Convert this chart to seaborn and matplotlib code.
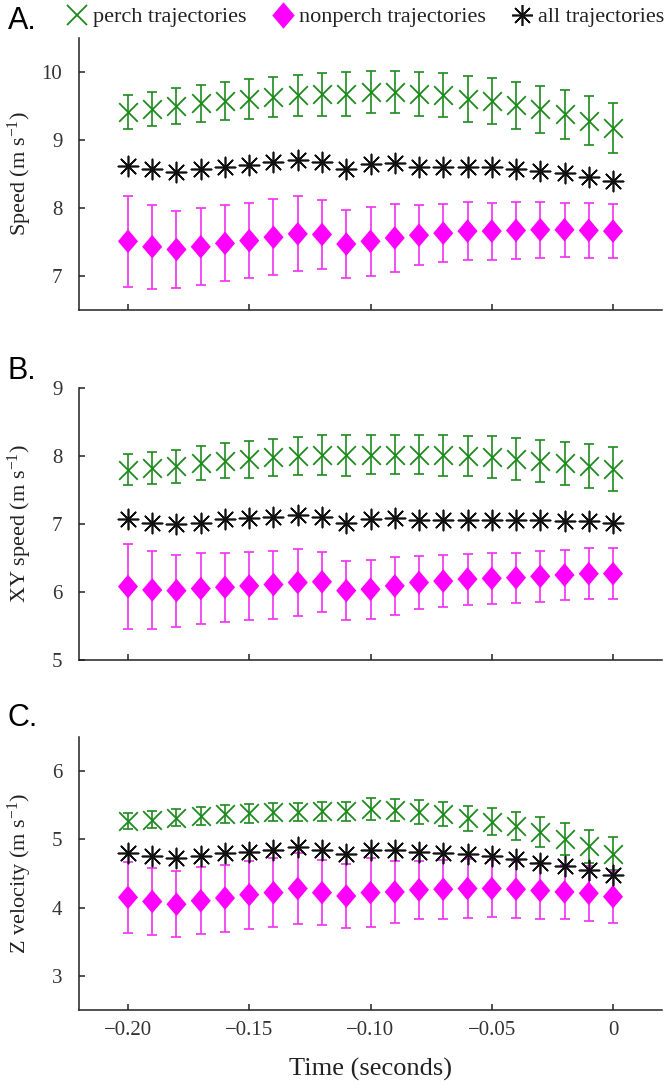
import numpy as np
import pandas as pd
import matplotlib
matplotlib.use('Agg')
import matplotlib.pyplot as plt
from matplotlib.lines import Line2D
import seaborn as sns

# ---- data ----
time = [-0.20, -0.19, -0.18, -0.17, -0.16, -0.15, -0.14, -0.13, -0.12, -0.11,
        -0.10, -0.09, -0.08, -0.07, -0.06, -0.05, -0.04, -0.03, -0.02, -0.01, 0.0]

perch_speed = [9.41, 9.46, 9.50, 9.54, 9.57, 9.60, 9.63, 9.66, 9.67, 9.68,
               9.71, 9.70, 9.68, 9.66, 9.60, 9.57, 9.51, 9.45, 9.38, 9.28, 9.18]
perch_speed_err = [0.25, 0.25, 0.26, 0.27, 0.28, 0.29, 0.29, 0.30, 0.31, 0.32,
                   0.31, 0.31, 0.32, 0.325, 0.335, 0.34, 0.345, 0.35, 0.36, 0.36, 0.37]
nonperch_speed = [7.51, 7.43, 7.39, 7.43, 7.48, 7.52, 7.57, 7.62, 7.61, 7.47,
                  7.51, 7.56, 7.60, 7.63, 7.66, 7.66, 7.67, 7.68, 7.68, 7.67, 7.66]
nonperch_speed_err = [0.67, 0.62, 0.57, 0.565, 0.56, 0.555, 0.56, 0.55, 0.51, 0.505,
                      0.51, 0.50, 0.44, 0.43, 0.425, 0.42, 0.42, 0.41, 0.40, 0.40, 0.40]
all_speed = [8.62, 8.58, 8.53, 8.57, 8.60, 8.63, 8.67, 8.71, 8.67, 8.58,
             8.65, 8.66, 8.60, 8.60, 8.60, 8.60, 8.57, 8.54, 8.51, 8.46, 8.40]

perch_xy = [7.80, 7.83, 7.85, 7.90, 7.93, 7.95, 7.98, 8.00, 8.01, 8.01,
            8.02, 8.02, 8.02, 8.01, 8.00, 7.98, 7.95, 7.93, 7.89, 7.85, 7.81]
perch_xy_err = [0.23, 0.235, 0.24, 0.25, 0.26, 0.27, 0.275, 0.28, 0.295, 0.30,
                0.285, 0.29, 0.29, 0.30, 0.30, 0.31, 0.31, 0.31, 0.31, 0.32, 0.325]
nonperch_xy = [6.08, 6.03, 6.02, 6.05, 6.07, 6.09, 6.11, 6.14, 6.15, 6.02,
               6.04, 6.09, 6.14, 6.16, 6.19, 6.20, 6.21, 6.23, 6.25, 6.27, 6.27]
nonperch_xy_err = [0.63, 0.57, 0.53, 0.52, 0.51, 0.50, 0.50, 0.49, 0.44, 0.43,
                   0.43, 0.43, 0.385, 0.38, 0.375, 0.375, 0.37, 0.37, 0.37, 0.37, 0.37]
all_xy = [7.07, 7.02, 7.00, 7.02, 7.07, 7.09, 7.11, 7.13, 7.11, 7.01,
          7.07, 7.09, 7.06, 7.06, 7.06, 7.06, 7.06, 7.06, 7.05, 7.04, 7.02]

perch_z = [5.27, 5.29, 5.32, 5.34, 5.37, 5.38, 5.40, 5.40, 5.41, 5.41,
           5.45, 5.43, 5.40, 5.37, 5.31, 5.26, 5.19, 5.11, 5.01, 4.90, 4.79]
perch_z_err = [0.12, 0.13, 0.13, 0.13, 0.13, 0.135, 0.135, 0.135, 0.14, 0.14,
               0.16, 0.16, 0.17, 0.18, 0.18, 0.195, 0.205, 0.215, 0.235, 0.24, 0.24]
nonperch_z = [4.15, 4.09, 4.05, 4.10, 4.14, 4.19, 4.22, 4.28, 4.22, 4.17,
              4.22, 4.23, 4.26, 4.27, 4.28, 4.28, 4.27, 4.25, 4.23, 4.21, 4.16]
nonperch_z_err = [0.52, 0.49, 0.48, 0.49, 0.49, 0.50, 0.50, 0.52, 0.48, 0.47,
                  0.50, 0.46, 0.43, 0.43, 0.43, 0.42, 0.42, 0.41, 0.40, 0.40, 0.38]
all_z = [4.80, 4.76, 4.72, 4.76, 4.80, 4.82, 4.85, 4.89, 4.84, 4.79,
         4.85, 4.85, 4.82, 4.80, 4.78, 4.76, 4.71, 4.66, 4.61, 4.55, 4.48]

xticks = [-0.20, -0.15, -0.10, -0.05, 0.0]
xtick_labels = ['\u22120.20', '\u22120.15', '\u22120.10', '\u22120.05', '0']
panel_letters = ['A.', 'B.', 'C.']
ylabels = ['Speed (m s$^{-1}$)', 'XY speed (m s$^{-1}$)', 'Z velocity (m s$^{-1}$)']
yticks = [[7, 8, 9, 10], [5, 6, 7, 8, 9], [3, 4, 5, 6]]
ylims = [(6.5, 10.5), (5, 9), (2.5, 6.5)]
legend_labels = ['perch trajectories', 'nonperch trajectories', 'all trajectories']

# ---- style ----
sns.set_theme(style='ticks')
plt.rcParams['font.family'] = ['Liberation Serif', 'DejaVu Serif']
plt.rcParams['mathtext.fontset'] = 'custom'
plt.rcParams['mathtext.rm'] = 'Liberation Serif'
plt.rcParams['mathtext.it'] = 'Liberation Serif:italic'
plt.rcParams['axes.unicode_minus'] = True

GREEN = '#1e8a1e'
MAGENTA = '#ff00ff'
MAG_BAR = '#f030f0'
BLACK = '#111111'
diamond = [(0, 1), (0.85, 0), (0, -1), (-0.85, 0), (0, 1)]
asterisk = (8, 2, 0)

fig = plt.figure(figsize=(6.66, 10.88), dpi=100)
H = 1088.0
boxes = [(38, 310), (388, 660), (737, 1010)]   # pixel top/bottom of each axes
letter_y = [21, 371, 718]

panels = [
    (perch_speed, perch_speed_err, nonperch_speed, nonperch_speed_err, all_speed),
    (perch_xy, perch_xy_err, nonperch_xy, nonperch_xy_err, all_xy),
    (perch_z, perch_z_err, nonperch_z, nonperch_z_err, all_z),
]

for i, (p, pe, n, ne, a) in enumerate(panels):
    top, bot = boxes[i]
    ax = fig.add_axes([79 / 666, 1 - bot / H, 583 / 666, (bot - top) / H])
    df = pd.DataFrame({'time': time, 'perch': p, 'nonperch': n, 'all': a})

    # perch
    ax.errorbar(time, p, yerr=pe, fmt='none', ecolor=GREEN, elinewidth=1.2,
                capsize=3.4, capthick=1.2, zorder=2)
    sns.scatterplot(data=df, x='time', y='perch', marker='x', color=GREEN,
                    s=180, linewidth=1.3, ax=ax, zorder=3)
    # nonperch
    ax.errorbar(time, n, yerr=ne, fmt='none', ecolor=MAG_BAR, elinewidth=1.2,
                capsize=3.4, capthick=1.2, zorder=2)
    sns.scatterplot(data=df, x='time', y='nonperch', marker=diamond, color=MAGENTA,
                    s=290, edgecolor='none', ax=ax, zorder=3)
    # all
    sns.scatterplot(data=df, x='time', y='all', marker=asterisk, color=BLACK,
                    s=210, linewidth=1.2, ax=ax, zorder=4)
    sns.scatterplot(data=df, x='time', y='all', marker='o', color=BLACK,
                    s=8, edgecolor='none', ax=ax, zorder=5)

    ax.set_xlim(-0.2202, 0.0202)
    ax.set_ylim(*ylims[i])
    ax.set_yticks(yticks[i])
    ax.set_xticks(xticks)
    if i == 2:
        ax.set_xticklabels(xtick_labels)
        ax.set_xlabel('Time (seconds)', fontsize=19, color='#222222', labelpad=13)
    else:
        ax.set_xticklabels([])
        ax.set_xlabel('')
    ax.set_ylabel(ylabels[i], fontsize=16, color='#222222')
    ax.yaxis.set_label_coords(-0.078, 0.5)
    sns.despine(ax=ax)
    for s in ['left', 'bottom']:
        ax.spines[s].set_linewidth(1.1)
        ax.spines[s].set_color('#222222')
    ax.tick_params(direction='in', length=4.5, width=1.1, colors='#222222',
                   labelsize=15, labelcolor='#333333')
    ax.tick_params(axis='y', pad=12)
    ax.tick_params(axis='x', pad=8)
    ax.set_facecolor('white')

    fig.text(0.012, 1 - letter_y[i] / H, panel_letters[i], fontsize=22,
             family=['Liberation Sans', 'DejaVu Sans'], va='center', ha='left',
             color='black')

handles = [
    Line2D([], [], marker='x', color=GREEN, linestyle='none', markersize=14,
           markeredgewidth=1.3),
    Line2D([], [], marker=diamond, color=MAGENTA, linestyle='none', markersize=19,
           markeredgewidth=0),
    Line2D([], [], marker=asterisk, color=BLACK, linestyle='none', markersize=15,
           markeredgewidth=1.2),
]
fig.legend(handles, legend_labels, loc='center', ncol=3,
           bbox_to_anchor=(0.549, 1 - 17 / H), frameon=False, fontsize=16,
           handlelength=0.9, handletextpad=0.25, columnspacing=1.2,
           labelcolor='#222222', borderpad=0.1)

fig.savefig('out.png', dpi=100, facecolor='white')
